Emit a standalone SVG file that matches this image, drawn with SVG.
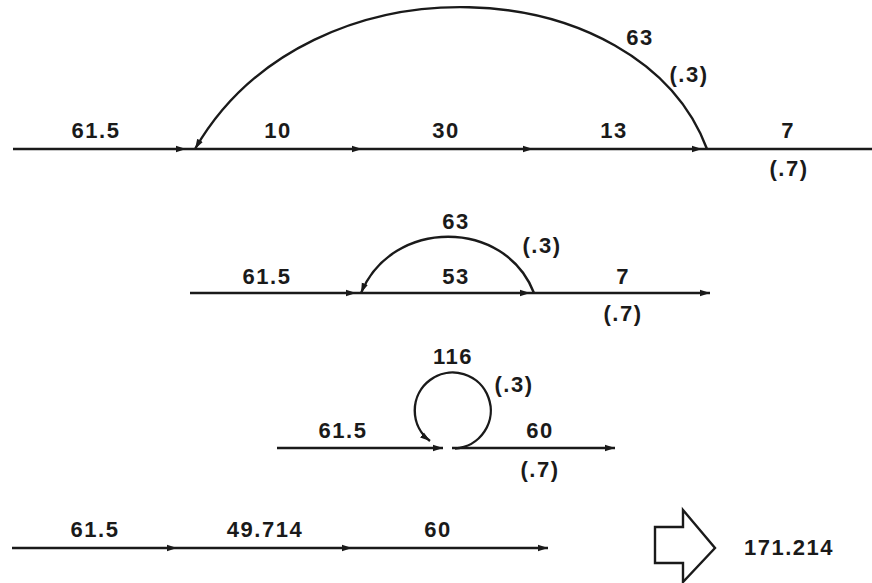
<svg xmlns="http://www.w3.org/2000/svg" width="872" height="583" viewBox="0 0 872 583">
<style>
.ln{stroke:#1a1a1a;stroke-width:2.4;fill:none}
.t{font-family:"Liberation Sans",Arial,sans-serif;font-weight:bold;font-size:22px;fill:#1a1a1a;text-anchor:middle;letter-spacing:1.5px}
</style>
<defs>
<marker id="ah" viewBox="0 0 10 8" refX="10" refY="4" markerWidth="10" markerHeight="8" markerUnits="userSpaceOnUse" orient="auto">
<path d="M0,0.8 L10,4 L0,7.2 Z" fill="#1a1a1a"/>
</marker>
</defs>
<rect width="872" height="583" fill="#fff"/>
<g id="connectors">
<!-- row 1 -->
<path class="ln" d="M13,149 L186,149" marker-end="url(#ah)"/>
<path class="ln" d="M186,149 L362,149" marker-end="url(#ah)"/>
<path class="ln" d="M362,149 L533,149" marker-end="url(#ah)"/>
<path class="ln" d="M533,149 L702,149" marker-end="url(#ah)"/>
<path class="ln" d="M702,149 L872,149"/>
<path class="ln" d="M707,149 C640,-30 310,-50 195,149" marker-end="url(#ah)"/>
<!-- row 2 -->
<path class="ln" d="M190,293 L356,293" marker-end="url(#ah)"/>
<path class="ln" d="M356,293 L530,293" marker-end="url(#ah)"/>
<path class="ln" d="M530,293 L710,293" marker-end="url(#ah)"/>
<path class="ln" d="M534,293 C505,218 392,218 361,293" marker-end="url(#ah)"/>
<!-- row 3 -->
<path class="ln" d="M277,448 L443,448" marker-end="url(#ah)"/>
<path class="ln" d="M452,448 L615,448" marker-end="url(#ah)"/>
<path class="ln" d="M455,448.5 A38,38 0 1 0 430,441" marker-end="url(#ah)"/>
<!-- row 4 -->
<path class="ln" d="M12,548 L177,548" marker-end="url(#ah)"/>
<path class="ln" d="M177,548 L352,548" marker-end="url(#ah)"/>
<path class="ln" d="M352,548 L548,548" marker-end="url(#ah)"/>
</g>
<g id="row1-labels">
<text class="t" x="96" y="138">61.5</text>
<text class="t" x="278" y="138">10</text>
<text class="t" x="446" y="138">30</text>
<text class="t" x="614" y="138">13</text>
<text class="t" x="788" y="138">7</text>
<text class="t" x="789" y="176">(.7)</text>
<text class="t" x="640" y="45">63</text>
<text class="t" x="689" y="82">(.3)</text>
</g>
<g id="row2-labels">
<text class="t" x="267" y="284">61.5</text>
<text class="t" x="456" y="284">53</text>
<text class="t" x="623" y="284">7</text>
<text class="t" x="623" y="321">(.7)</text>
<text class="t" x="456" y="229">63</text>
<text class="t" x="542" y="253">(.3)</text>
</g>
<g id="row3-labels">
<text class="t" x="343" y="438">61.5</text>
<text class="t" x="453" y="364">116</text>
<text class="t" x="514" y="392">(.3)</text>
<text class="t" x="540" y="438">60</text>
<text class="t" x="540" y="477">(.7)</text>
</g>
<g id="row4">
<text class="t" x="95" y="537">61.5</text>
<text class="t" x="265" y="537">49.714</text>
<text class="t" x="438" y="537">60</text>
</g>
<g id="result">
<polygon class="ln" points="655,527 683,527 683,510 715,548 683,582 683,563 655,563" stroke-linejoin="miter"/>
<text class="t" x="789" y="555">171.214</text>
</g>
</svg>
